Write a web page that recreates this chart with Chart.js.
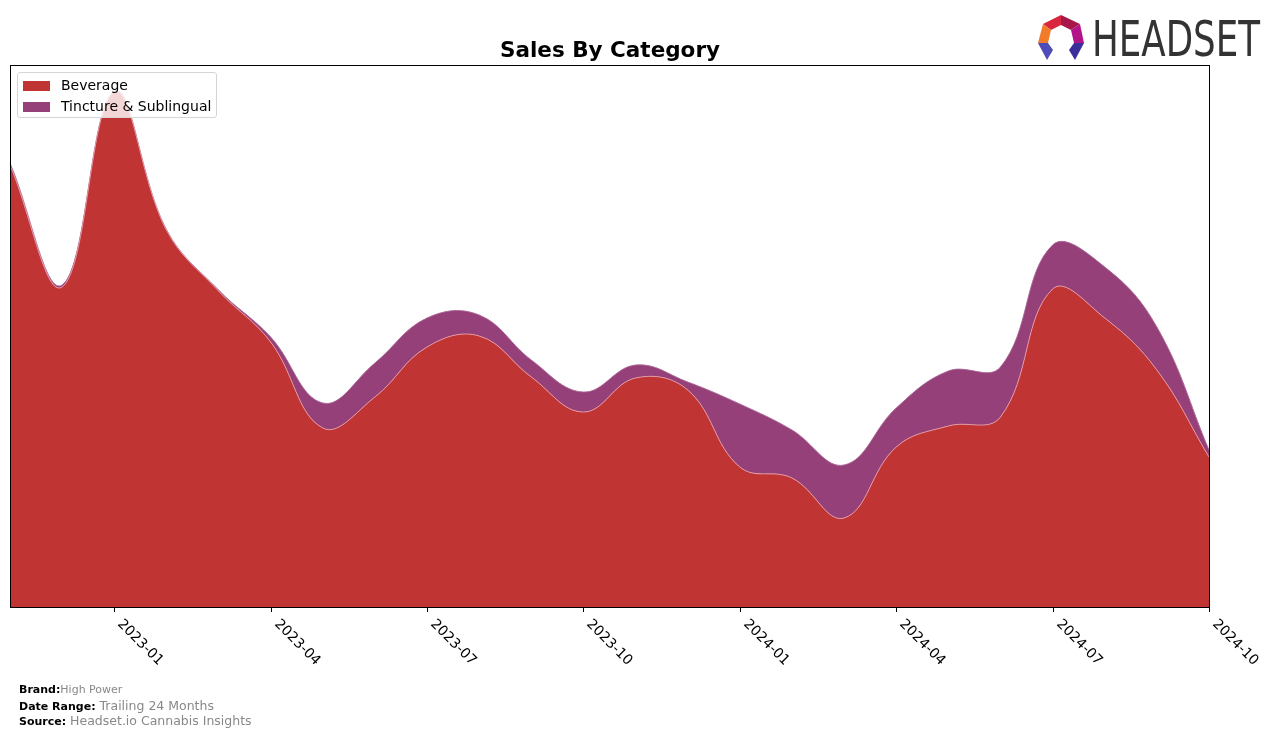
<!DOCTYPE html>
<html>
<head>
<meta charset="utf-8">
<title>Sales By Category</title>
<script src="https://cdn.jsdelivr.net/npm/chart.js@4.4.1/dist/chart.umd.min.js"></script>
<style>
  body { margin: 0; background: #fff; font-family: 'DejaVu Sans', sans-serif; }
  #wrap { position: relative; width: 1276px; height: 738px; overflow: hidden; }
  #title { position: absolute; left: 10px; width: 1200px; top: 37px; text-align: center;
           font-weight: bold; font-size: 21.5px; color: #000; }
  #legend { position: absolute; left: 17px; top: 72px; width: 198px; height: 44px;
            border: 1px solid #d5d5d5; border-radius: 3px; background: rgba(255,255,255,0.8); }
  #legend .item { position: absolute; left: 5px; font-size: 14px; color: #000; height: 16px; line-height: 16px; }
  #legend .sw { display: inline-block; width: 27px; height: 10px; margin-right: 11px; vertical-align: -1px; }
  .foot { position: absolute; left: 19px; color: #888; white-space: nowrap; }
  .foot b { color: #000; font-size: 11px; }
  #logo { position: absolute; left: 1030px; top: 8px; }
</style>
</head>
<body>
<div id="wrap">
  <canvas id="salesChart" width="1276" height="738"></canvas>
  <div id="title">Sales By Category</div>
  <div id="legend">
    <div class="item" style="top:4px"><span class="sw" style="background:rgb(193,52,52)"></span>Beverage</div>
    <div class="item" style="top:25px"><span class="sw" style="background:rgb(150,64,122)"></span>Tincture &amp; Sublingual</div>
  </div>
  <div class="foot" style="top:683px; font-size:11px"><b>Brand:</b>High Power</div>
  <div class="foot" style="top:698px; font-size:12.5px"><b>Date Range:</b> Trailing 24 Months</div>
  <div class="foot" style="top:713px; font-size:12.5px"><b>Source:</b> Headset.io Cannabis Insights</div>
  <svg id="logo" width="240" height="60" viewBox="1030 8 240 60">
    <polygon points="1061,15 1043,24 1051,30 1061,25" fill="#d8263e"/>
    <polygon points="1061,15 1080,24 1071,30 1061,25" fill="#a8174a"/>
    <polygon points="1043,24 1038,43 1048,43 1051,30" fill="#f07b2a"/>
    <polygon points="1080,24 1084,43 1074,43 1071,30" fill="#b3148a"/>
    <polygon points="1038,43 1048,43 1053,50 1047,60" fill="#4f4bb8"/>
    <polygon points="1084,43 1074,43 1069,50 1075,60" fill="#3a2f9a"/>
    <text x="1092" y="56" font-family="'Liberation Sans Narrow', 'DejaVu Sans Condensed', sans-serif"
          font-size="50" fill="#333" textLength="168" lengthAdjust="spacingAndGlyphs">HEADSET</text>
  </svg>
</div>
<script>
const months = ['2022-11', '2022-12', '2023-01', '2023-02', '2023-03', '2023-04',
                '2023-05', '2023-06', '2023-07', '2023-08', '2023-09', '2023-10',
                '2023-11', '2023-12', '2024-01', '2024-02', '2024-03', '2024-04',
                '2024-05', '2024-06', '2024-07', '2024-08', '2024-09', '2024-10'];
const tickLabels = ['2023-01', '2023-04', '2023-07', '2023-10', '2024-01', '2024-04', '2024-07', '2024-10'];
const beverage = [442, 320, 515, 377, 316, 265, 179, 210, 260, 271, 230, 195,
                  229, 217, 140, 129, 89, 160, 181, 190, 318, 289, 237, 150];
const tincture = [2, 2, 0.5, 0.5, 1, 5, 25, 34, 29, 21, 17, 20,
                  13, 8, 63, 48, 53, 39, 55, 50, 44, 51, 43, 7];

// frame, tick marks and rotated tick labels
const axisPlugin = {
  id: 'axisPlugin',
  afterDraw(chart) {
    const ctx = chart.ctx;
    const area = chart.chartArea;
    const xs = chart.scales.x;
    ctx.save();
    ctx.strokeStyle = '#000';
    ctx.lineWidth = 1;
    ctx.strokeRect(Math.round(area.left) + 0.5, Math.round(area.top) + 0.5,
                   Math.round(area.right - area.left), Math.round(area.bottom - area.top));
    ctx.fillStyle = '#000';
    ctx.font = '14px "DejaVu Sans"';
    ctx.textAlign = 'left';
    ctx.textBaseline = 'top';
    tickLabels.forEach(lab => {
      const x = Math.round(xs.getPixelForValue(months.indexOf(lab))) + 0.5;
      ctx.beginPath();
      ctx.moveTo(x, area.bottom);
      ctx.lineTo(x, area.bottom + 5);
      ctx.stroke();
      ctx.save();
      ctx.translate(x + 10, area.bottom + 10);
      ctx.rotate(Math.PI / 4);
      ctx.fillText(lab, 0, 0);
      ctx.restore();
    });
    ctx.restore();
  }
};

new Chart(document.getElementById('salesChart'), {
  type: 'line',
  data: {
    labels: months,
    datasets: [{
      label: 'Beverage',
      data: beverage,
      backgroundColor: 'rgb(193,52,52)',
      borderColor: 'rgba(230,160,170,0.9)',
      borderWidth: 1,
      fill: 'origin',
      tension: 0.4,
      pointRadius: 0
    }, {
      label: 'Tincture & Sublingual',
      data: tincture,
      backgroundColor: 'rgb(150,64,122)',
      borderColor: 'rgba(170,100,150,0.9)',
      borderWidth: 1,
      fill: '-1',
      tension: 0.4,
      pointRadius: 0
    }]
  },
  options: {
    responsive: false,
    animation: false,
    layout: { padding: { left: 10, right: 67, top: 65, bottom: 131 } },
    plugins: { legend: { display: false }, tooltip: { enabled: false } },
    scales: {
      x: { display: false, offset: false },
      y: { display: false, stacked: true, min: 0, max: 542 }
    }
  },
  plugins: [axisPlugin]
});
</script>
</body>
</html>
